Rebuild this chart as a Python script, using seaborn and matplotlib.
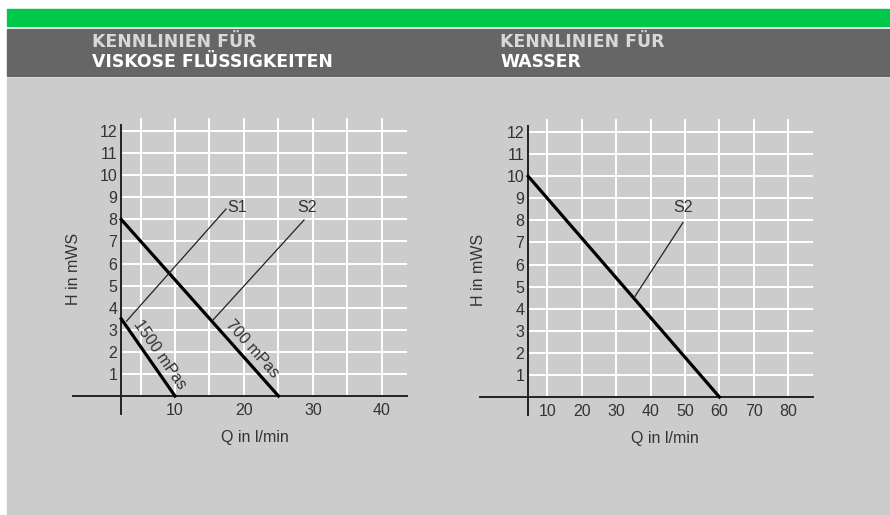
import numpy as np
import pandas as pd
import seaborn as sns
import matplotlib.pyplot as plt
from matplotlib.patches import Rectangle

plt.rcParams['font.family'] = ['Liberation Sans', 'DejaVu Sans']

# --- left panel: viscous fluids ---
visc_q_700 = [2.2, 25]
visc_h_700 = [8, 0]
visc_q_1500 = [2.2, 10]
visc_h_1500 = [3.5, 0]
visc_s1_q = [3.0, 17.4]
visc_s1_h = [3.4, 8.47]
visc_s2_q = [15.5, 28.7]
visc_s2_h = [3.44, 7.97]
visc_xticks = [10, 20, 30, 40]
visc_xgrid = [5, 10, 15, 20, 25, 30, 35, 40]

# --- right panel: water ---
water_q = [4.4, 60]
water_h = [10, 0]
water_s2_q = [35.2, 49.4]
water_s2_h = [4.5, 7.9]
water_xticks = [10, 20, 30, 40, 50, 60, 70, 80]
water_xgrid = [10, 20, 30, 40, 50, 60, 70, 80]

h_ticks = list(range(1, 13))

DARK = '#222222'
TXT = '#333333'
FS = 11.5

fig = plt.figure(figsize=(8.9, 5.15), dpi=100)
fig.patch.set_facecolor('white')

# header bands + light background (behind the axes)
fig.patches.append(Rectangle((7/890, 0), 1, 437/515, transform=fig.transFigure,
                             color='#cccccc', zorder=-3))
fig.patches.append(Rectangle((7/890, (515-76)/515), 1, 47/515, transform=fig.transFigure,
                             color='#666666', zorder=-3))
fig.patches.append(Rectangle((7/890, (515-26)/515), 1, 17/515, transform=fig.transFigure,
                             color='#00c84b', zorder=-3))

for x, line1, line2 in [(92/890, 'KENNLINIEN FÜR', 'VISKOSE FLÜSSIGKEITEN'),
                        (500/890, 'KENNLINIEN FÜR', 'WASSER')]:
    fig.text(x, (515-47)/515, line1, color='#d8d8d8', fontsize=12.4,
             fontweight='bold', family='DejaVu Sans', va='baseline')
    fig.text(x, (515-67)/515, line2, color='white', fontsize=12.4,
             fontweight='bold', family='DejaVu Sans', va='baseline')


def setup(ax, xlim, yaxis_q, xticks, xgrid, xlabel_x, ylabel_x):
    ax.set_facecolor('none')
    ax.set_xlim(*xlim)
    ax.set_ylim(-0.8, 12.6)
    # white grid, only inside the first quadrant
    ax.vlines(xgrid, 0, 12.6, color='white', lw=1.4, zorder=1)
    ax.hlines(h_ticks, yaxis_q, xlim[1], color='white', lw=1.4, zorder=1)
    for s in ['top', 'right']:
        ax.spines[s].set_visible(False)
    ax.spines['left'].set_position(('data', yaxis_q))
    ax.spines['left'].set_bounds(-0.8, 12.27)
    ax.spines['bottom'].set_position(('data', 0))
    for s in ['left', 'bottom']:
        ax.spines[s].set_color(DARK)
        ax.spines[s].set_linewidth(1.4)
    ax.set_xticks(xticks)
    ax.set_yticks(h_ticks)
    ax.tick_params(axis='y', length=0, pad=2.7, labelsize=FS, labelcolor=TXT)
    ax.tick_params(axis='x', length=0, pad=5, labelsize=FS, labelcolor=TXT)
    ax.set_xlabel('Q in l/min', fontsize=FS, color=TXT)
    ax.set_ylabel('H in mWS', fontsize=FS, color=TXT)
    ax.xaxis.set_label_coords(xlabel_x, -0.055)
    ax.yaxis.set_label_coords(ylabel_x, 0.49)


def curve(ax, q, h):
    sns.lineplot(x=q, y=h, ax=ax, color='black', lw=2.3, sort=False, zorder=3)


def leader(ax, q, h):
    sns.lineplot(x=q, y=h, ax=ax, color=DARK, lw=0.9, sort=False, zorder=3)


def along(ax, q, h, tx, ty, text):
    ang = np.degrees(np.arctan2(h[1] - h[0], q[1] - q[0]))
    ax.text(tx, ty, text, rotation=ang, transform_rotates_text=True,
            rotation_mode='anchor', ha='center', va='center',
            fontsize=FS, color=TXT, zorder=4)


# left axes
ax1 = fig.add_axes([72.9/890, (515-413.7)/515, 333.9/890, 295.9/515])
setup(ax1, (-4.8, 43.6), 2.2, visc_xticks, visc_xgrid, 0.545, 0.025)
curve(ax1, visc_q_700, visc_h_700)
curve(ax1, visc_q_1500, visc_h_1500)
leader(ax1, visc_s1_q, visc_s1_h)
leader(ax1, visc_s2_q, visc_s2_h)
ax1.text(19.0, 8.56, 'S1', ha='center', va='center', fontsize=FS, color=TXT)
ax1.text(29.1, 8.56, 'S2', ha='center', va='center', fontsize=FS, color=TXT)
along(ax1, visc_q_1500, visc_h_1500, 7.75, 1.9, '1500 mPas')
along(ax1, visc_q_700, visc_h_700, 21.2, 2.15, '700 mPas')

# right axes
ax2 = fig.add_axes([480/890, (515-414.7)/515, 333/890, 295.9/515])
setup(ax2, (-9.6, 87.2), 4.4, water_xticks, water_xgrid, 0.556, 0.018)
curve(ax2, water_q, water_h)
leader(ax2, water_s2_q, water_s2_h)
ax2.text(49.4, 8.6, 'S2', ha='center', va='center', fontsize=FS, color=TXT)

fig.savefig('out.png', dpi=100)
